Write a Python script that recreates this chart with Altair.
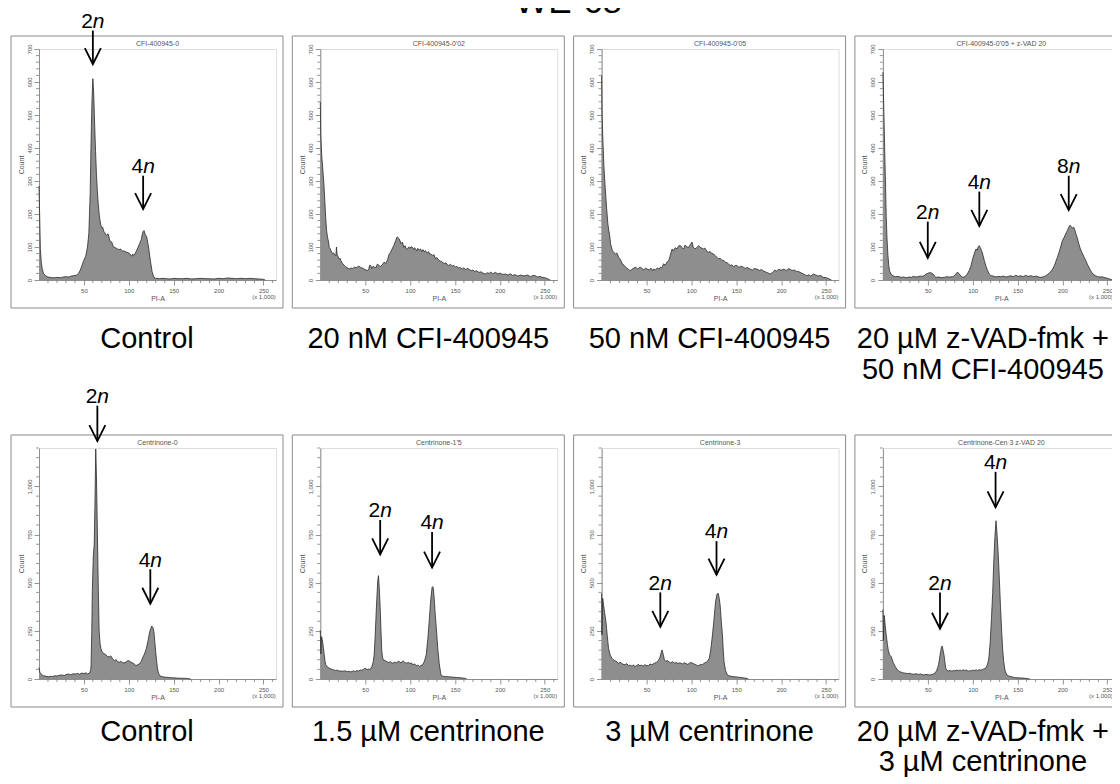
import altair as alt
import pandas as pd

FONT = "Liberation Sans"
X_MAX = 264
W = 237
H = 231

# ---------------- histogram data: [PI-A (x1000), count] ----------------
HIST_CFI_0 = [
    (0, 285), (0.8, 190), (1.5, 95), (2.5, 55), (3.5, 35), (5, 20), (7, 14), (9, 10), (12, 8), (15, 7),
    (18, 7), (21, 8), (24, 7), (27, 9), (30, 10), (33, 9), (36, 12), (39, 13), (42, 15), (44, 20),
    (46, 30), (48, 45), (50, 60), (52, 72), (54, 100), (55.5, 140), (57, 260), (58, 420), (59, 540),
    (60, 610), (61, 560), (62, 470), (63, 390), (64, 320), (65, 270), (66, 230), (67, 200), (68, 180),
    (69, 165), (70, 158), (71, 160), (72, 148), (73, 145), (74, 140), (75, 135), (77, 140), (79, 118),
    (81, 115), (83, 100), (85, 98), (87, 95), (89, 92), (91, 94), (93, 87), (95, 88), (97, 85),
    (99, 83), (101, 80), (102, 76), (103, 72), (104, 78), (106, 75), (108, 85), (110, 97), (112, 110),
    (114, 123), (115, 138), (116, 147), (117, 150), (118, 140), (120, 130), (122, 100), (124, 60),
    (126, 25), (128, 8), (130, 5), (134, 4), (138, 5), (142, 4), (146, 3), (150, 5), (155, 4),
    (160, 4), (165, 5), (170, 3), (175, 4), (180, 5), (185, 4), (190, 4), (195, 3), (200, 5),
    (205, 4), (210, 6), (215, 5), (220, 4), (225, 5), (230, 4), (235, 5), (240, 4), (245, 3),
    (250, 2), (252, 0),
]

HIST_CFI_002 = [
    (0, 540), (0.5, 440), (1.5, 380), (2.6, 343), (4, 290), (5, 241), (6, 190), (7, 150), (8, 130),
    (9, 118), (10, 99), (11, 95), (12, 88), (13.7, 79), (15, 82), (16, 76), (17.4, 74), (18, 100),
    (18.6, 78), (20, 70), (21, 64), (22, 66), (23, 58), (25, 49), (26.5, 45), (28.5, 39), (30, 37),
    (32, 33), (34, 36), (36, 35), (38, 39), (40, 37), (41.5, 40), (43, 42), (45, 38), (47, 36),
    (49, 33), (51, 30), (52.6, 28), (54, 34), (55, 45), (56, 44), (57.5, 35), (59, 42), (60, 39),
    (62, 37), (63.5, 48), (65.5, 44), (67, 41), (69, 46), (71, 54), (73, 50), (75, 62), (76.7, 79),
    (78, 82), (80, 94), (82, 105), (84, 120), (85, 128), (86, 131), (87, 126), (88, 124), (90, 110),
    (91.5, 115), (93, 99), (94.5, 104), (96, 92), (97, 94), (98.5, 100), (100, 96), (101, 101),
    (102.6, 99), (104, 92), (105, 98), (106, 94), (107.5, 88), (108.5, 96), (110, 90), (111.8, 94),
    (113, 86), (114.5, 92), (116, 85), (117, 89), (119, 82), (120.5, 86), (122, 78), (123, 79),
    (125, 74), (126.5, 77), (128.5, 64), (130, 68), (132, 60), (134, 57), (136, 54), (138, 50),
    (140, 52), (141.5, 46), (143, 44), (145, 48), (147, 42), (149, 44), (150.7, 39), (152, 42),
    (154, 36), (156, 38), (158, 33), (160, 37), (162, 31), (163.5, 35), (165.5, 33), (168, 28),
    (170, 30), (172, 26), (174, 28), (176.7, 23), (179, 25), (181, 21), (184, 18), (186, 22),
    (188, 20), (190, 24), (192, 19), (195, 23), (198, 18), (200, 21), (203, 17), (206, 18),
    (209, 15), (212, 19), (214, 14), (217, 16), (220, 12), (223, 15), (226, 13), (228, 13),
    (231, 15), (234, 10), (237, 14), (239.6, 13), (242, 9), (245, 11), (247, 8), (250, 7),
    (253, 4), (256, 0),
]

HIST_CFI_005 = [
    (0, 620), (0.5, 500), (1.5, 420), (2.6, 343), (4, 280), (5.5, 221), (7, 170), (8, 150), (9, 135),
    (10, 110), (12, 89), (13.5, 84), (15.5, 79), (17, 82), (19, 69), (21, 62), (23, 49), (25, 45),
    (26.7, 39), (28, 36), (30, 32), (32, 28), (34, 33), (36, 36), (38, 39), (40, 33), (42, 38),
    (43, 39), (45, 35), (47, 31), (49, 36), (50.7, 33), (53, 30), (55, 36), (57, 28), (58, 33),
    (60, 31), (62, 36), (64, 33), (65.5, 39), (67, 36), (69, 49), (71, 45), (73, 55), (74.8, 59),
    (76, 70), (78.5, 94), (80, 88), (82, 98), (84, 94), (86, 104), (88, 104), (90, 96), (91.5, 94),
    (93, 106), (95, 100), (97, 99), (99, 108), (100.7, 115), (102, 100), (104, 94), (106, 98),
    (108, 104), (110, 99), (112, 96), (113.7, 94), (115, 97), (117, 88), (119, 84), (121, 86),
    (123, 80), (124.8, 79), (127, 73), (130, 64), (132, 66), (134, 60), (136, 59), (138, 54),
    (140, 52), (143, 44), (145, 46), (147, 40), (149, 44), (150.7, 44), (153, 38), (155, 42),
    (158, 39), (160, 35), (162, 38), (165.5, 33), (168, 30), (170, 35), (173, 33), (176, 29),
    (178, 32), (180, 28), (183, 24), (185, 22), (187.8, 18), (190, 22), (193, 30), (195, 27),
    (197, 32), (200.7, 30), (203, 33), (206, 28), (208, 34), (210, 33), (212, 29), (215, 30),
    (217, 26), (219, 26), (222, 22), (225, 18), (228.5, 13), (231, 16), (233, 12), (236, 18),
    (238, 16), (241, 12), (244, 14), (247, 8), (250, 7), (253, 4), (256, 0),
]

HIST_CFI_005_ZVAD = [
    (0, 630), (1, 520), (2, 394), (3, 280), (3.7, 190), (4.5, 130), (5.5, 79), (6.5, 45), (7.4, 28),
    (9, 18), (11, 13), (14, 10), (17, 11), (20, 8), (23, 9), (26, 7), (29, 9), (31.5, 8), (34, 11),
    (37, 9), (39, 10), (42, 12), (44, 11), (46, 13), (48, 18), (50, 20), (52, 23), (54, 21), (56, 18),
    (57.5, 12), (59, 8), (62, 9), (65, 7), (68.5, 8), (71, 10), (74, 9), (77.8, 10), (80, 14),
    (82.6, 23), (84, 22), (85, 18), (87, 12), (89, 8), (91, 10), (92.6, 13), (94, 18), (96, 28),
    (98, 42), (100, 64), (102, 82), (103.7, 94), (105, 90), (106, 100), (107.4, 104), (108.5, 98),
    (110, 89), (111.5, 75), (113, 59), (115, 40), (116.7, 28), (118.5, 18), (120.4, 13), (123, 12),
    (126, 9), (128, 11), (131.5, 10), (134, 12), (137, 9), (140, 11), (142.6, 13), (145, 10),
    (148, 14), (151, 11), (153.7, 13), (156, 10), (159, 14), (162, 11), (164.8, 13), (168, 10),
    (171, 12), (173.5, 9), (176, 8), (179, 10), (181, 12), (183, 16), (185, 20), (187, 26),
    (189, 33), (191, 44), (192.5, 55), (194.4, 69), (196, 82), (198, 100), (200, 120), (202, 130),
    (204, 142), (205.5, 150), (207, 160), (208.5, 166), (209.5, 162), (211, 158), (212.5, 160),
    (214, 150), (215, 140), (216.5, 128), (218, 112), (220, 94), (222, 82), (224, 70), (226, 59),
    (228, 46), (230, 36), (231.5, 28), (233, 22), (235, 15), (237, 13), (239, 10), (242, 9),
    (244, 10), (246, 8), (249, 6), (252.6, 3), (255, 1), (256, 0),
]

HIST_CEN_0 = [
    (0, 60), (0.5, 45), (1, 35), (2, 30), (3, 22), (5, 17), (7, 15), (10.5, 12), (13, 14), (15, 13),
    (18, 17), (20, 15), (22, 19), (25.5, 21), (28, 18), (30, 23), (33, 26), (35, 22), (38, 27),
    (40.6, 26), (43, 29), (45, 25), (48, 31), (50, 28), (52, 32), (54, 26), (56.4, 31), (57.5, 45),
    (58, 70), (58.8, 250), (59.4, 455), (60.5, 640), (61.5, 700), (62.3, 900), (63.2, 1195),
    (64, 1050), (65, 770), (66, 480), (67, 245), (68, 185), (69, 157), (70.5, 140), (72.6, 131),
    (74, 128), (76, 118), (78, 114), (80, 120), (82, 104), (84, 96), (86, 100), (87.5, 90),
    (89.5, 87), (91, 92), (93, 85), (95, 84), (97, 88), (99, 96), (100.5, 94), (102.6, 87),
    (104, 84), (106, 78), (108, 70), (110, 74), (112, 79), (114, 92), (115.8, 114), (117.5, 130),
    (119.5, 157), (121.5, 200), (123.3, 245), (124.5, 262), (125.6, 275), (126.8, 268), (128, 245),
    (129, 195), (130, 140), (131, 95), (132, 52), (133.2, 30), (134.6, 17), (137, 12), (140, 10),
    (142, 9), (146, 7), (150, 6), (153, 5), (157, 4), (160, 4), (164.7, 3), (167, 1), (169, 0),
]

HIST_CEN_15 = [
    (0, 252), (0.6, 130), (1.5, 220), (2.5, 196), (3.5, 160), (4.4, 126), (5.2, 95), (6, 74), (8, 62),
    (10, 56), (12, 52), (13.5, 49), (15.4, 47), (17, 44), (19, 46), (21, 41), (22.7, 42), (25, 40),
    (27, 43), (30, 38), (32, 40), (34, 37), (37, 42), (39, 39), (41, 44), (42.5, 41), (44.7, 47),
    (46, 45), (48, 50), (50, 56), (52, 49), (53.8, 52), (55.5, 48), (57.5, 65), (59, 90), (60, 126),
    (61, 210), (62, 319), (63, 420), (64, 510), (64.8, 537), (65.6, 480), (66.7, 371), (67.6, 250),
    (68.5, 144), (69.3, 115), (70, 100), (72, 96), (74, 91), (76, 86), (78, 90), (79.5, 84),
    (81, 82), (83, 88), (85, 84), (86.8, 92), (88.6, 88), (90, 83), (92, 95), (94, 86), (96, 82),
    (98, 86), (100, 80), (101.5, 84), (103, 74), (105, 78), (107, 70), (108.8, 72), (110.6, 65),
    (112, 70), (114, 74), (116, 92), (118, 126), (119.8, 210), (121.6, 319), (123, 410),
    (124.5, 476), (125.3, 480), (126, 467), (127, 410), (128, 336), (129.5, 250), (130.8, 161),
    (132.5, 80), (134.4, 21), (136, 16), (138, 13), (140, 12), (143, 12), (146, 10), (149, 9),
    (152, 8), (154.6, 7), (157, 6), (160, 4), (162, 3), (163, 0),
]

HIST_CEN_3 = [
    (0, 445), (0.4, 229), (1.2, 420), (2.2, 385), (3.5, 340), (4.8, 299), (6.2, 230), (7.7, 160),
    (9.5, 125), (11.4, 108), (13, 100), (15, 94), (17, 90), (19, 80), (20.5, 88), (22.4, 82),
    (24, 76), (26, 74), (28, 80), (30, 69), (32, 72), (34, 66), (35.5, 74), (37, 64), (39, 70),
    (41, 76), (42.5, 68), (44.5, 73), (46, 66), (48, 74), (50, 70), (52, 69), (54, 78), (56, 74),
    (58, 80), (59, 82), (61, 86), (63, 95), (64.7, 108), (66, 130), (67.3, 151), (68.5, 130),
    (70, 99), (71.5, 92), (73, 96), (75.7, 87), (77, 84), (79, 90), (81, 82), (83, 86), (85, 80),
    (87, 84), (88.6, 82), (90, 78), (92, 84), (94, 80), (96, 76), (98, 82), (99.5, 86), (101.5, 82),
    (103, 78), (105, 74), (107, 69), (109, 72), (111, 76), (112.5, 74), (114, 82), (116, 86),
    (118, 92), (120, 108), (121.8, 160), (123.5, 229), (125, 300), (127, 403), (128.5, 440),
    (129.8, 446), (131, 420), (132, 385), (133.3, 300), (134.6, 229), (135.5, 150), (136.4, 90),
    (138, 45), (140, 21), (143, 15), (147.4, 12), (150, 11), (153, 9), (156.6, 7), (159, 5),
    (162, 3), (163.5, 0),
]

HIST_CEN_3_ZVAD = [
    (0, 361), (0.5, 200), (1.5, 330), (2.5, 280), (3.6, 232), (5, 180), (6, 150), (7.3, 127),
    (8.2, 122), (9, 118), (10.5, 100), (11.5, 85), (12.7, 74), (14, 62), (15.5, 52), (17, 45),
    (18, 39), (20, 36), (22, 33), (23.5, 31), (25.5, 30), (27.5, 28), (29.5, 30), (32, 26),
    (34.5, 25), (37, 27), (39.5, 24), (42, 26), (43.5, 23), (45.5, 21), (48, 24), (50.5, 22),
    (52.7, 21), (55, 24), (56.5, 27), (58, 30), (60, 45), (61, 60), (62, 74), (63.2, 110),
    (64.4, 144), (65.2, 165), (66, 171), (67, 150), (68, 127), (69, 90), (70, 56), (71.2, 46),
    (72.7, 42), (75, 44), (77, 40), (79, 45), (80, 42), (82, 46), (84, 43), (86, 47), (87.5, 42),
    (89, 48), (91, 44), (93, 47), (95, 40), (96.5, 44), (98, 42), (100, 46), (102, 44), (104, 48),
    (105.5, 43), (107, 48), (109, 46), (111, 50), (112.5, 52), (114.5, 56), (116, 70), (117.3, 90),
    (118, 109), (119.5, 190), (121, 320), (122.3, 450), (123.6, 620), (124.8, 740), (126, 822),
    (127.2, 750), (128.4, 655), (129.7, 520), (131, 373), (132.5, 230), (133.5, 150), (134.5, 92),
    (136, 45), (138, 21), (140, 16), (143, 12), (147, 7), (151, 6), (155, 5), (158, 4), (161, 2),
    (163.6, 0),
]

# ---------------- annotation arrows: x, ploidy digit, label baseline, shaft top, tip (counts) ----------------
ARROWS_CFI_0 = [(60, "2", 764, 756, 654), (116, "4", 324, 316, 215)]
ARROWS_CFI_ZVAD = [(50, "2", 185, 177, 67), (107.4, "4", 276, 268, 164), (207, "8", 324, 316, 212)]
ARROWS_CEN_0 = [(65, "2", 1434, 1420, 1236), (124, "4", 584, 570, 391)]
ARROWS_CEN_15 = [(66.7, "2", 840, 826, 647), (124.5, "4", 777, 763, 579)]
ARROWS_CEN_3 = [(65.4, "2", 464, 450, 271), (128, "4", 730, 716, 542)]
ARROWS_CEN_ZVAD = [(63.6, "2", 464, 450, 261), (125.5, "4", 1090, 1076, 892)]

# ---------------- axes ----------------
X_MAJOR = [50, 100, 150, 200, 250]
X_MINOR = [10, 20, 30, 40, 60, 70, 80, 90, 110, 120, 130, 140, 160, 170, 180, 190, 210, 220, 230, 240, 260]
Y1_MAJOR = [0, 100, 200, 300, 400, 500, 600, 700]
Y1_MINOR = [20, 40, 60, 80, 120, 140, 160, 180, 220, 240, 260, 280, 320, 340, 360, 380,
            420, 440, 460, 480, 520, 540, 560, 580, 620, 640, 660, 680]
Y2_MAJOR = [0, 250, 500, 750, 1000]
Y2_MINOR = [50, 100, 150, 200, 300, 350, 400, 450, 550, 600, 650, 700, 800, 850, 900, 950,
            1050, 1100, 1150, 1200]

PANELS = [
    (HIST_CFI_0, 700, Y1_MAJOR, Y1_MINOR, "CFI-400945-0", ["Control"], ARROWS_CFI_0),
    (HIST_CFI_002, 700, Y1_MAJOR, Y1_MINOR, "CFI-400945-0'02", ["20 nM CFI-400945"], []),
    (HIST_CFI_005, 700, Y1_MAJOR, Y1_MINOR, "CFI-400945-0'05", ["50 nM CFI-400945"], []),
    (HIST_CFI_005_ZVAD, 700, Y1_MAJOR, Y1_MINOR, "CFI-400945-0'05 + z-VAD 20",
     ["20 µM z-VAD-fmk +", "50 nM CFI-400945"], ARROWS_CFI_ZVAD),
    (HIST_CEN_0, 1200, Y2_MAJOR, Y2_MINOR, "Centrinone-0", ["Control"], ARROWS_CEN_0),
    (HIST_CEN_15, 1200, Y2_MAJOR, Y2_MINOR, "Centrinone-1'5", ["1.5 µM centrinone"], ARROWS_CEN_15),
    (HIST_CEN_3, 1200, Y2_MAJOR, Y2_MINOR, "Centrinone-3", ["3 µM centrinone"], ARROWS_CEN_3),
    (HIST_CEN_3_ZVAD, 1200, Y2_MAJOR, Y2_MINOR, "Centrinone-Cen 3 z-VAD 20",
     ["20 µM z-VAD-fmk +", "3 µM centrinone"], ARROWS_CEN_ZVAD),
]

SUPER_TITLE = "WE-68"

AX = "#7a7a7a"
TXT = "#555555"


def build_panel(idx, hist, ymax, ymajor, yminor, title, caption, arrows):
    df = pd.DataFrame(hist, columns=["x", "y"])
    one = pd.DataFrame({"a": [0]})
    xs = alt.Scale(domain=[0, X_MAX], nice=False, zero=False)
    ys = alt.Scale(domain=[0, ymax], nice=False, zero=False)

    x_axis = alt.Axis(values=X_MAJOR, format="d", title="PI-A", grid=False, labelFont=FONT,
                      labelFontSize=6, labelColor=TXT, labelPadding=2, tickSize=5, tickColor=AX,
                      tickWidth=0.8, domainColor=AX, domainWidth=0.8, titleFont=FONT,
                      titleFontSize=7, titleFontWeight="normal", titleColor=TXT, titlePadding=1,
                      labelOverlap=False, labelFlush=False)
    y_axis = alt.Axis(values=ymajor, format=",d", title="Count", grid=False, labelFont=FONT,
                      labelFontSize=6, labelColor=TXT, labelAngle=270, labelPadding=2, tickSize=5,
                      tickColor=AX, tickWidth=0.8, domainColor=AX, domainWidth=0.8, titleFont=FONT,
                      titleFontSize=7, titleFontWeight="normal", titleColor=TXT, titlePadding=2,
                      labelOverlap=False, labelFlush=False)

    def X(field):
        return alt.X(field, scale=xs, axis=x_axis)

    def Y(field):
        return alt.Y(field, scale=ys, axis=y_axis)

    frame = alt.Chart(one).mark_rect(fillOpacity=0, stroke="#8a8a8a", strokeWidth=1).encode(
        x=alt.value(-28), x2=alt.value(244), y=alt.value(-13), y2=alt.value(259))

    area = alt.Chart(df).mark_area(
        color="#8e8e8e", opacity=1, interpolate="linear",
        line={"color": "#2a2a2a", "strokeWidth": 0.8}).encode(x=X("x:Q"), y=Y("y:Q"))

    xminor = alt.Chart(pd.DataFrame({"x": X_MINOR})).mark_rule(color=AX, strokeWidth=0.8).encode(
        x=X("x:Q"), y=alt.value(H), y2=alt.value(H + 3))
    yminor_l = alt.Chart(pd.DataFrame({"y": yminor})).mark_rule(color=AX, strokeWidth=0.8).encode(
        y=Y("y:Q"), x=alt.value(-3), x2=alt.value(0))

    right_col = idx in (3, 7)
    title_t = alt.Chart(one).mark_text(text=title, font=FONT, fontSize=7, color=TXT,
                                       align="center", baseline="alphabetic").encode(
        x=alt.value(W / 2), y=alt.value(-3))
    unit_t = alt.Chart(one).mark_text(text="(x 1,000)", font=FONT, fontSize=6, color=TXT,
                                      align="center", baseline="alphabetic").encode(
        x=alt.value(218 if right_col else 225), y=alt.value(H + 19))
    top_row = idx < 4
    line_h = 31 if top_row else 30
    cap_y = H + 68 if top_row else H + 62
    cap_x = 100 if right_col else 108
    cap_t = alt.Chart(one).mark_text(text=caption if len(caption) > 1 else caption[0], font=FONT,
                                     fontSize=29, color="black", align="center",
                                     baseline="alphabetic", lineHeight=line_h).encode(
        x=alt.value(cap_x), y=alt.value(cap_y))

    layers = [frame, area, xminor, yminor_l, title_t, unit_t, cap_t]

    if arrows:
        adf = pd.DataFrame(arrows, columns=["x", "num", "base", "top", "tip"])
        shaft = alt.Chart(adf).mark_rule(color="black", strokeWidth=1.8).encode(
            x=X("x:Q"), y=Y("top:Q"), y2="tip:Q")
        head = alt.Chart(adf).mark_point(shape="M -1 -2 L 0 0 L 1 -2", size=256, filled=False,
                                         color="black", strokeWidth=1.8, opacity=1).encode(
            x=X("x:Q"), y=Y("tip:Q"))
        lab_num = alt.Chart(adf).mark_text(font=FONT, fontSize=21, color="black", align="right",
                                           baseline="alphabetic").encode(
            x=X("x:Q"), y=Y("base:Q"), text="num:N")
        lab_n = alt.Chart(adf).mark_text(text="n", font=FONT, fontSize=21, fontStyle="italic",
                                         color="black", align="left", baseline="alphabetic").encode(
            x=X("x:Q"), y=Y("base:Q"))
        layers += [shaft, head, lab_num, lab_n]

    if idx == 2:
        sup = alt.Chart(one).mark_text(text=SUPER_TITLE, font=FONT, fontSize=35, color="black",
                                       align="center", baseline="alphabetic").encode(
            x=alt.value(-33), y=alt.value(-36))
        layers.append(sup)

    return alt.layer(*layers).properties(width=W, height=H)


panels = [build_panel(i, *p) for i, p in enumerate(PANELS)]

chart = alt.concat(
    *panels, columns=4, spacing={"row": 168, "column": 44.3}, bounds="flush"
).properties(
    padding={"left": 2, "top": -24, "right": -16, "bottom": 0}
).configure_view(
    stroke=AX, strokeWidth=1
).configure(background="white")

chart.save("out.html", embed_options={"renderer": "svg", "actions": False})
